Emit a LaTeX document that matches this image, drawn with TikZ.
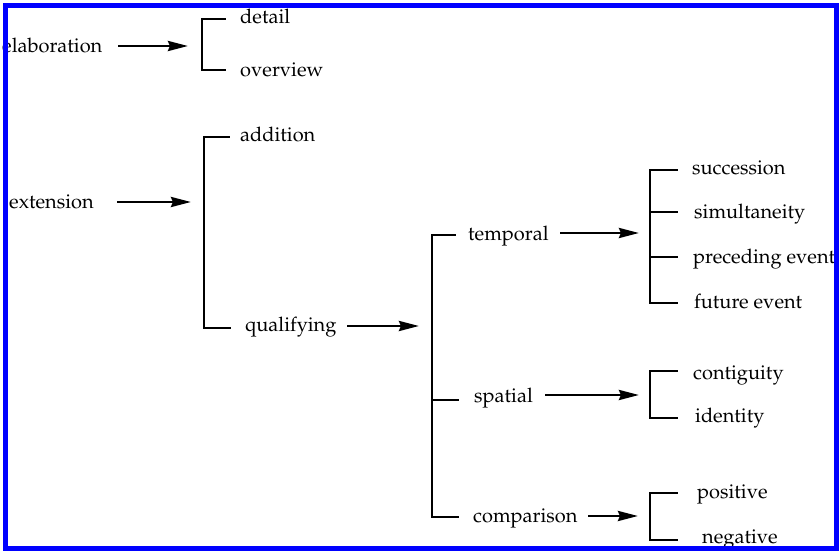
\documentclass[tikz,border=0pt]{standalone}
\usepackage[T1]{fontenc}
\usepackage{mathpazo}
\usetikzlibrary{arrows.meta}
\begin{document}
\begin{tikzpicture}[x=1pt,y=-1pt,
  lbl/.style={inner sep=0pt,anchor=base west,font=\fontsize{20}{24}\selectfont},
  brk/.style={line width=2.3pt,line cap=rect},
  arr/.style={line width=2.8pt,-{Stealth[length=20pt,width=10pt,inset=2pt]}}]
\useasboundingbox (0,0) rectangle (839,551);
% labels
\node[lbl] (elab) at (2,53) {elaboration};
\node[lbl] (detail) at (240,24) {detail};
\node[lbl] (overview) at (240,77) {overview};
\node[lbl] (ext) at (9,208) {extension};
\node[lbl] (add) at (240,141) {addition};
\node[lbl] (qual) at (245,331) {qualifying};
\node[lbl] (temp) at (468,240) {temporal};
\node[lbl] (spat) at (474,402) {spatial};
\node[lbl] (comp) at (473,522) {comparison};
\node[lbl] (succ) at (692,175) {succession};
\node[lbl] (simu) at (694,218) {simultaneity};
\node[lbl] (prec) at (693,263) {preceding event};
\node[lbl] (fut) at (694,308) {future event};
\node[lbl] (cont) at (693,379) {contiguity};
\node[lbl] (iden) at (695,422) {identity};
\node[lbl] (pos) at (697,498) {positive};
\node[lbl] (neg) at (702,543) {negative};
% bracket spines (top and bottom corners)
\coordinate (b1t) at (202,19);  \coordinate (b1b) at (202,70);
\coordinate (b2t) at (204,137); \coordinate (b2b) at (204,328);
\coordinate (b3t) at (432,235); \coordinate (b3b) at (432,517);
\coordinate (b4t) at (650,170); \coordinate (b4b) at (650,303);
\coordinate (b5t) at (650,371); \coordinate (b5b) at (650,418);
\coordinate (b6t) at (650,493); \coordinate (b6b) at (650,540);
% arrow tails and tips
\coordinate (s1) at (118,46);  \coordinate (t1) at (188,46);
\coordinate (s2) at (117,202); \coordinate (t2) at (191,202);
\coordinate (s3) at (347,326); \coordinate (t3) at (419,326);
\coordinate (s4) at (560,233); \coordinate (t4) at (639,233);
\coordinate (s5) at (545,395); \coordinate (t5) at (639,395);
\coordinate (s6) at (588,516); \coordinate (t6) at (638,516);
% brackets
\draw[brk] (225,19) -- (b1t) -- (b1b) -- (225,70);
\draw[brk] (229,137) -- (b2t) -- (b2b) -- (230,328);
\draw[brk] (455,235) -- (b3t) -- (b3b) -- (458,517);
\draw[brk] (432,400) -- (458,400);
\draw[brk] (677,170) -- (b4t) -- (b4b) -- (677,303);
\draw[brk] (650,212) -- (677,212);
\draw[brk] (650,257) -- (677,257);
\draw[brk] (677,371) -- (b5t) -- (b5b) -- (677,418);
\draw[brk] (677,493) -- (b6t) -- (b6b) -- (677,540);
% arrows
\foreach \i in {1,...,6} \draw[arr] (s\i) -- (t\i);
% frame
\draw[blue,line width=5pt] (5.5,5.5) rectangle (836.5,548.5);
\end{tikzpicture}
\end{document}
